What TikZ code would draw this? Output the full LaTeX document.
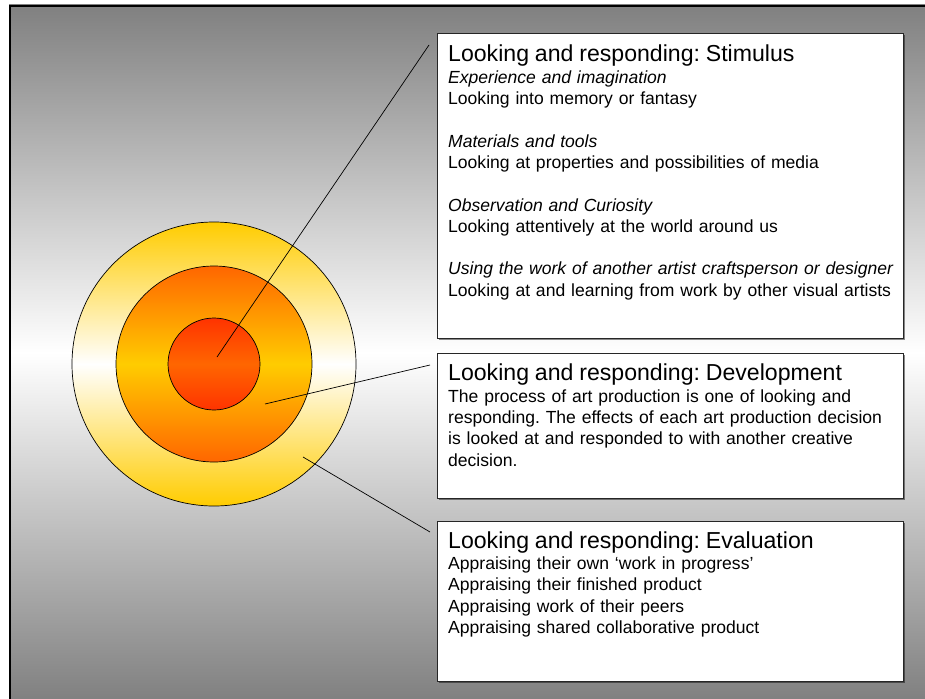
\documentclass[tikz,border=0pt]{standalone}
\usepackage{fontspec}
\setmainfont{Liberation Sans}
\usetikzlibrary{shadows}
\definecolor{cyel}{HTML}{FFCC00}
\definecolor{corg}{HTML}{FF6600}
\definecolor{cred}{HTML}{FF3300}
\definecolor{bggray}{HTML}{808080}
\frenchspacing
\begin{document}
\begin{tikzpicture}[x=1pt,y=-1pt,
  ring/.style={circle, draw=black, line width=0.7pt, inner sep=0pt},
  boxstyle/.style={rectangle, draw=black!85, line width=0.9pt, fill=white, anchor=north west,
    inner sep=0pt, minimum width=466pt,
    drop shadow={shadow xshift=1.2pt, shadow yshift=-1.2pt, fill=black, opacity=0.45}},
  txt/.style={anchor=north west, inner sep=0pt, text width=470pt, align=left,
    font=\fontsize{17.55}{21.3}\selectfont\frenchspacing},
  conn/.style={draw=black, line width=0.7pt}]
\useasboundingbox (0,0) rectangle (925,698);
% background
\shade[top color=bggray, bottom color=bggray, middle color=white] (9,5) rectangle (930,700);
\draw[line width=2pt] (9.8,710) -- (9.8,5.8) -- (940,5.8);
% target circles
\node[ring, minimum size=284pt, top color=cyel, bottom color=cyel, middle color=white] (outer) at (214,364) {};
\node[ring, minimum size=196pt, top color=corg, bottom color=corg, middle color=cyel] (mid) at (214,364) {};
\node[ring, minimum size=92pt, top color=cred, bottom color=cred, middle color=corg] (inner) at (214,364) {};
% boxes
\node[boxstyle, minimum height=305pt] (stim) at (437,33) {};
\node[boxstyle, minimum height=145pt] (dev) at (437,353) {};
\node[boxstyle, minimum height=160pt] (eval) at (437,521) {};
% texts
\node[txt] (stimtext) at (448,45) {{\fontsize{23.1}{21.5}\selectfont Looking and responding: Stimulus}\\
\textit{Experience and imagination}\\
Looking into memory or fantasy\\[21.3pt]
\textit{Materials and tools}\\
Looking at properties and possibilities of media\\[21.3pt]
\textit{Observation and Curiosity}\\
Looking attentively at the world around us\\[21.3pt]
\textit{Using the work of another artist craftsperson or designer}\\
Looking at and learning from work by other visual artists};
\node[txt] (devtext) at (448,364) {{\fontsize{23.1}{21.5}\selectfont Looking and responding: Development}\\
The process of art production is one of looking and\\
responding. The effects of each art production decision\\
is looked at and responded to with another creative\\
decision.};
\node[txt] (evaltext) at (448,531.2) {{\fontsize{23.1}{21.5}\selectfont Looking and responding: Evaluation}\\
Appraising their own ‘work in progress’\\
Appraising their finished product\\
Appraising work of their peers\\
Appraising shared collaborative product};
% connectors
\coordinate (c1a) at (429,45);
\coordinate (c1b) at (217,357);
\coordinate (c2a) at (430,365);
\coordinate (c2b) at (265,404);
\coordinate (c3a) at (303,457);
\coordinate (c3b) at (430,532);
\draw[conn] (c1a) -- (c1b);
\draw[conn] (c2a) -- (c2b);
\draw[conn] (c3a) -- (c3b);
\end{tikzpicture}
\end{document}
